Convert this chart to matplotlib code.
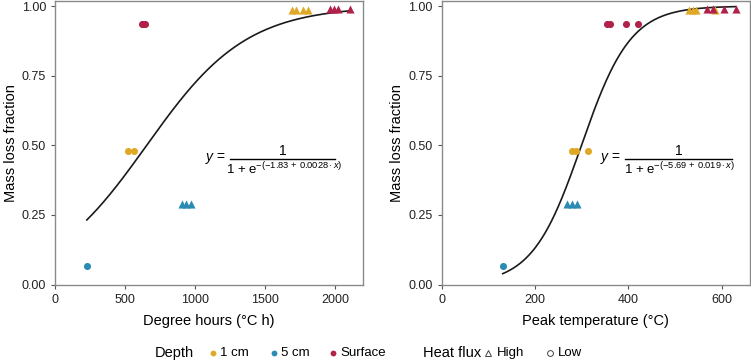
import numpy as np
import matplotlib
matplotlib.use("Agg")
import matplotlib.pyplot as plt
from matplotlib.lines import Line2D

plt.rcParams['font.family'] = ['Liberation Sans', 'DejaVu Sans']
plt.rcParams['mathtext.fontset'] = 'custom'
plt.rcParams['mathtext.rm'] = 'Liberation Sans'
plt.rcParams['mathtext.it'] = 'Liberation Sans:italic'

# colours per depth
depth_colors = {'1 cm': '#DFA926', '5 cm': '#2C8BB3', 'Surface': '#B1224B'}
depth_names = ['1 cm', '5 cm', 'Surface']

# degree hours data (x) and mass loss (y), split by depth and heat flux
dh_low = {
    '1 cm': ([522, 565], [0.48, 0.48]),
    '5 cm': ([226], [0.065]),
    'Surface': ([618, 630, 642], [0.935, 0.935, 0.935]),
}
dh_high = {
    '1 cm': ([1690, 1718, 1772, 1808], [0.985, 0.985, 0.985, 0.985]),
    '5 cm': ([905, 935, 968], [0.29, 0.29, 0.29]),
    'Surface': ([1962, 1990, 2022, 2105], [0.99, 0.99, 0.99, 0.99]),
}
# peak temperature data
pt_low = {
    '1 cm': ([280, 287, 314], [0.48, 0.48, 0.48]),
    '5 cm': ([131], [0.065]),
    'Surface': ([354, 360, 394, 421], [0.935, 0.935, 0.935, 0.935]),
}
pt_high = {
    '1 cm': ([530, 538, 545, 585], [0.985, 0.985, 0.985, 0.985]),
    '5 cm': ([268, 279, 289], [0.29, 0.29, 0.29]),
    'Surface': ([568, 580, 605, 630], [0.99, 0.99, 0.99, 0.99]),
}

# logistic fits
dh_coef = (-1.83, 0.0028)
pt_coef = (-5.69, 0.019)
dh_range = (226, 2105)
pt_range = (131, 630)

fig = plt.figure(figsize=(7.51, 3.62), dpi=100)
ax1 = fig.add_axes([0.0735, 0.214, 0.4101, 0.783])
ax2 = fig.add_axes([0.588, 0.214, 0.4105, 0.783])


def draw_panel(ax, low, high, coef, xr, xlim, xticks, xlabel, eq_x):
    xs = np.linspace(xr[0], xr[1], 300)
    ax.plot(xs, 1 / (1 + np.exp(-(coef[0] + coef[1] * xs))), color='#1a1a1a', lw=1.2, zorder=2)
    for d in depth_names:
        x, y = low[d]
        ax.scatter(x, y, marker='o', s=26, color=depth_colors[d], linewidths=0, zorder=3)
        x, y = high[d]
        ax.scatter(x, y, marker='^', s=34, color=depth_colors[d], linewidths=0, zorder=3)
    ax.set_xlim(*xlim)
    ax.set_ylim(0, 1.018)
    ax.set_xticks(xticks)
    ax.set_yticks([0, 0.25, 0.5, 0.75, 1.0])
    ax.set_yticklabels(['0.00', '0.25', '0.50', '0.75', '1.00'])
    ax.tick_params(labelsize=9, color='#555555', length=3, width=0.8, labelcolor='#222222')
    for sp in ax.spines.values():
        sp.set_color('#8a8a8a')
        sp.set_linewidth(1.0)
    ax.set_xlabel(xlabel, fontsize=10.5, labelpad=6)
    ax.set_ylabel('Mass loss fraction', fontsize=10.5, labelpad=3)

    # equation
    x0, x1 = eq_x
    xc = (x0 + x1) / 2
    ax.plot([x0, x1], [0.443, 0.443], transform=ax.transAxes, color='black', lw=1.0)
    ax.text(x0 - 0.012, 0.443, r'$y$ =', transform=ax.transAxes, ha='right', va='center', fontsize=10)
    ax.text(xc, 0.472, '1', transform=ax.transAxes, ha='center', va='center', fontsize=10)
    ax.text(xc + 0.005, 0.408, r'1 + e$^{-(-%s\,+\,%s\cdot x)}$' % (str(abs(coef[0])), str(coef[1])),
            transform=ax.transAxes, ha='center', va='center', fontsize=9.5)


draw_panel(ax1, dh_low, dh_high, dh_coef, dh_range, (0, 2200),
           [0, 500, 1000, 1500, 2000], 'Degree hours (°C h)', (0.568, 0.909))
draw_panel(ax2, pt_low, pt_high, pt_coef, pt_range, (0, 660),
           [0, 200, 400, 600], 'Peak temperature (°C)', (0.595, 0.941))

# legend along the bottom
ly = 0.025
fig.text(155 / 751, ly, 'Depth', fontsize=10.5, va='center', ha='left')
for name, mx in zip(depth_names, [213, 274, 333]):
    fig.add_artist(Line2D([mx / 751], [ly], marker='o', ms=4.2, color=depth_colors[name],
                          markeredgewidth=0, transform=fig.transFigure))
    fig.text((mx + 7) / 751, ly, name, fontsize=9.5, va='center', ha='left')
fig.text(423 / 751, ly, 'Heat flux', fontsize=10.5, va='center', ha='left')
fig.add_artist(Line2D([488 / 751], [ly], marker='^', ms=4.5, color='#444444', mfc='none',
                      markeredgewidth=0.7, transform=fig.transFigure))
fig.text(497 / 751, ly, 'High', fontsize=9.5, va='center', ha='left')
fig.add_artist(Line2D([550 / 751], [ly], marker='o', ms=4.2, color='#444444', mfc='none',
                      markeredgewidth=0.7, transform=fig.transFigure))
fig.text(558 / 751, ly, 'Low', fontsize=9.5, va='center', ha='left')

fig.savefig('out.png', dpi=100)
